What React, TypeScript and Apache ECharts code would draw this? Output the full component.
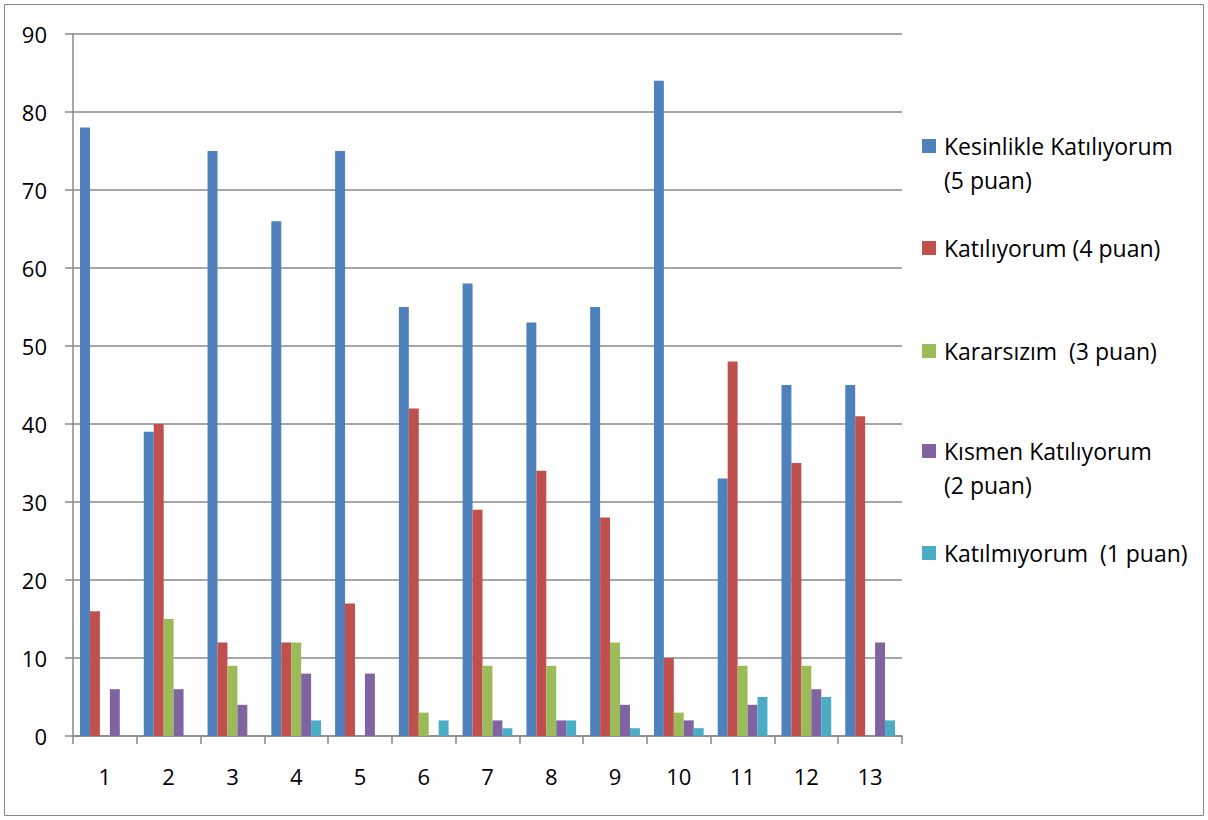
import React, { useEffect, useRef } from "react";
import * as echarts from "echarts";

const categories = ["1", "2", "3", "4", "5", "6", "7", "8", "9", "10", "11", "12", "13"];
const seriesNames = [
  "Kesinlikle Katılıyorum\n(5 puan)",
  "Katılıyorum (4 puan)",
  "Kararsızım  (3 puan)",
  "Kısmen Katılıyorum\n(2 puan)",
  "Katılmıyorum  (1 puan)",
];
const colors = ["#4F81BD", "#C0504D", "#9BBB59", "#8064A2", "#4BACC6"];
const kesinlikle = [78, 39, 75, 66, 75, 55, 58, 53, 55, 84, 33, 45, 45];
const katiliyorum = [16, 40, 12, 12, 17, 42, 29, 34, 28, 10, 48, 35, 41];
const kararsizim = [0, 15, 9, 12, 0, 3, 9, 9, 12, 3, 9, 9, 0];
const kismen = [6, 6, 4, 8, 8, 0, 2, 2, 4, 2, 4, 6, 12];
const katilmiyorum = [0, 0, 0, 2, 0, 2, 1, 2, 1, 1, 5, 5, 2];
const seriesData = [kesinlikle, katiliyorum, kararsizim, kismen, katilmiyorum];
const legendY = [146, 248, 351, 451, 553];

export default function App() {
  const ref = useRef<HTMLDivElement>(null);
  useEffect(() => {
    if (!ref.current) return;
    const chart = echarts.init(ref.current, null, { renderer: "svg" });
    const font = "'Open Sans', 'Noto Sans', sans-serif";
    const graphics: any[] = [
      {
        type: "rect",
        shape: { x: 4.5, y: 4.5, width: 1199, height: 811 },
        style: { fill: "none", stroke: "#868686", lineWidth: 1 },
        silent: true,
      },
    ];
    seriesNames.forEach((n, i) => {
      graphics.push({
        type: "rect",
        shape: { x: 922, y: legendY[i] - 7, width: 14, height: 14 },
        style: { fill: colors[i] },
      });
      graphics.push({
        type: "text",
        x: 944,
        y: legendY[i] - 17,
        style: {
          text: n,
          fontSize: 23,
          fontFamily: font,
          fill: "#000",
          lineHeight: 34,
          verticalAlign: "top",
        },
      });
    });
    chart.setOption({
      animation: false,
      grid: { left: 73, top: 34, width: 829, height: 702, containLabel: false },
      xAxis: {
        type: "category",
        data: categories,
        axisLine: { lineStyle: { color: "#888888", width: 1.5 } },
        axisTick: { show: true, length: 8, lineStyle: { color: "#888888", width: 1.5 } },
        axisLabel: { color: "#000", fontSize: 22, fontFamily: font, margin: 29 },
        splitLine: { show: false },
      },
      yAxis: {
        type: "value",
        min: 0,
        max: 90,
        interval: 10,
        axisLine: { show: true, lineStyle: { color: "#888888", width: 1.5 } },
        axisTick: { show: true, length: 8, lineStyle: { color: "#888888", width: 1.5 } },
        axisLabel: { color: "#000", fontSize: 22, fontFamily: font, margin: 26 },
        splitLine: { show: true, lineStyle: { color: "#888888", width: 1.5 } },
      },
      series: seriesData.map((d, i) => ({
        type: "bar",
        name: seriesNames[i],
        data: d,
        barGap: "0%",
        barCategoryGap: "22%",
        itemStyle: { color: colors[i] },
      })),
      graphic: graphics,
    });
    return () => chart.dispose();
  }, []);
  return (
    <div
      ref={ref}
      style={{ position: "absolute", left: 0, top: 0, width: 1208, height: 820, background: "#fff" }}
    />
  );
}
